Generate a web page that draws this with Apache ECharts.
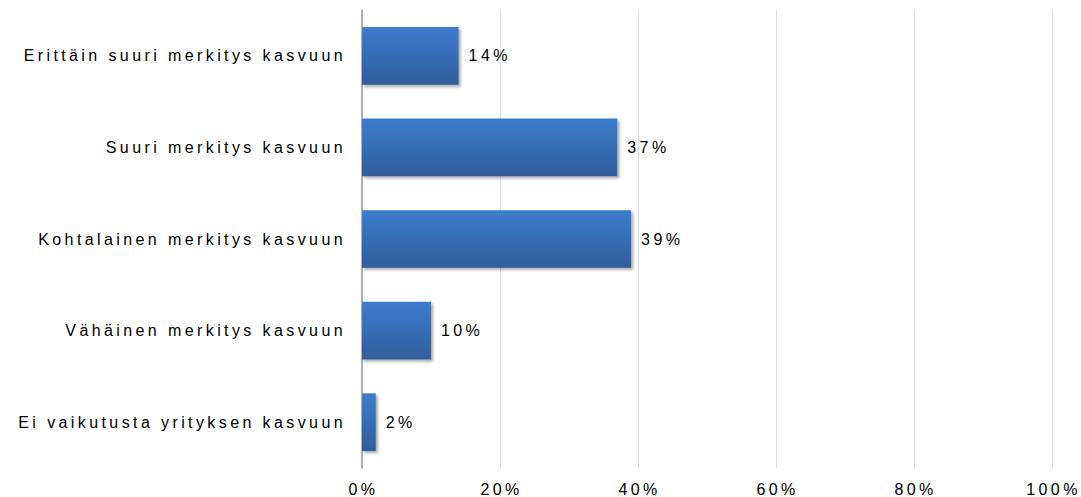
<!DOCTYPE html>
<html><head><meta charset="utf-8">
<script src="https://cdn.jsdelivr.net/npm/echarts@6/dist/echarts.min.js"></script>
<style>
html,body{margin:0;padding:0;background:#fff;}
#chart{width:1081px;height:497px;}
#chart text{letter-spacing:3.4px;}
</style></head>
<body><div id="chart"></div>
<script>
const categories = ["Erittäin suuri merkitys kasvuun","Suuri merkitys kasvuun","Kohtalainen merkitys kasvuun","Vähäinen merkitys kasvuun","Ei vaikutusta yrityksen kasvuun"];
const values = [14, 37, 39, 10, 2];
const xTicks = [0, 20, 40, 60, 80, 100];

const chart = echarts.init(document.getElementById('chart'), null, {renderer:'svg'});
chart.setOption({
  animation:false,
  grid:{left:362,right:29,top:10,bottom:29,containLabel:false},
  xAxis:{type:'value',min:xTicks[0],max:xTicks[xTicks.length-1],interval:20,
    axisLine:{show:false},axisTick:{show:false},
    splitLine:{show:true,lineStyle:{color:'#d6e1ee',width:1}},
    axisLabel:{formatter:'{value}%',color:'#000',fontSize:16,fontFamily:'Liberation Sans, Arial',margin:13,padding:[0,0,0,3]}},
  yAxis:{type:'category',data:categories,inverse:true,
    axisLine:{show:true,lineStyle:{color:'#9a9a9a',width:1.5}},axisTick:{show:false},
    axisLabel:{color:'#000',fontSize:16,fontFamily:'Liberation Sans, Arial',margin:16}},
  series:[{type:'bar',data:values,barCategoryGap:'37%',
    itemStyle:{color:new echarts.graphic.LinearGradient(0,0,0,1,[{offset:0,color:'#3d7dcc'},{offset:1,color:'#2f5d9c'}]),
      shadowColor:'rgba(0,0,0,0.35)',shadowBlur:3,shadowOffsetX:2,shadowOffsetY:2},
    label:{show:true,position:'right',distance:10,formatter:'{c}%',color:'#000',fontSize:16,fontFamily:'Liberation Sans, Arial'}}]
});
</script></body></html>
